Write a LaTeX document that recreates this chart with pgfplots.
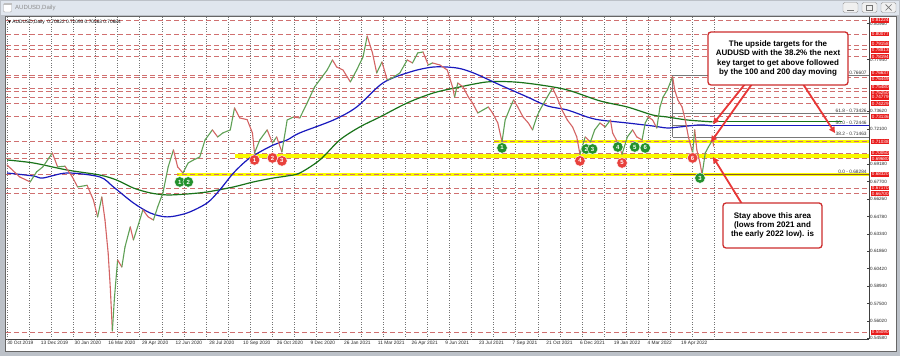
\documentclass[border=0pt]{standalone}
\usepackage{pgfplots}
\pgfplotsset{compat=1.18}
\usepackage{fontspec}
\setmainfont{Liberation Sans}
\newfontfamily\dejavu{DejaVu Sans}
\usetikzlibrary{arrows.meta}
\definecolor{mtred}{RGB}{232,28,28}
\definecolor{lvlred}{RGB}{208,112,112}
\definecolor{candleup}{RGB}{95,160,85}
\definecolor{candledn}{RGB}{212,100,100}
\definecolor{maBlue}{RGB}{25,25,190}
\definecolor{maGreen}{RGB}{25,115,25}
\definecolor{boxred}{RGB}{205,45,45}
\definecolor{arrred}{RGB}{232,55,55}
\definecolor{ylw}{RGB}{250,250,0}
\definecolor{winframe}{RGB}{188,193,200}
\definecolor{titlebar}{RGB}{224,230,238}
\definecolor{mkgreen}{RGB}{35,145,45}
\definecolor{mkred}{RGB}{232,65,60}
\definecolor{fibgray}{RGB}{120,120,120}

\pgfplotstableread{
x y m
0 0.6910 0
12 0.6810 0
22 0.6768 1
28 0.6852 1
34 0.6894 1
43 0.7011 0
48 0.6894 1
55 0.6900 0
62 0.6810 0
67 0.6726 1
76 0.6740 0
82 0.6617 0
86 0.6475 1
90 0.6642 0
93 0.6449 0
96 0.6173 0
98 0.5888 0
100 0.5520 1
102 0.5800 1
105 0.6114 0
109 0.6055 1
112 0.6223 1
117 0.6391 0
120 0.6282 1
124 0.6391 1
129 0.6534 0
134 0.6475 0
139 0.6449 1
143 0.6558 1
148 0.6676 1
153 0.6894 1
158 0.7036 0
162 0.6894 0
167 0.6843 1
172 0.6927 1
177 0.6952 1
183 0.6977 1
188 0.7120 1
195 0.7204 0
200 0.7145 1
205 0.7179 1
212 0.7204 1
216 0.7388 0
221 0.7304 0
228 0.7290 0
233 0.7179 0
235 0.7011 1
240 0.7120 1
247 0.7204 0
252 0.7095 1
256 0.7145 0
261 0.7019 1
266 0.7287 1
272 0.7312 0
278 0.7304 1
285 0.7430 1
292 0.7564 1
297 0.7623 1
304 0.7706 1
309 0.7790 0
313 0.7731 0
319 0.7706 0
326 0.7606 1
332 0.7706 1
338 0.7815 1
342 0.7990 0
347 0.7849 0
351 0.7681 1
356 0.7773 0
361 0.7623 1
366 0.7640 1
373 0.7681 1
380 0.7790 0
385 0.7765 1
390 0.7849 1
395 0.7857 0
400 0.7748 1
404 0.7765 0
411 0.7748 0
418 0.7706 0
423 0.7564 0
425 0.7480 1
428 0.7597 0
433 0.7564 0
438 0.7480 0
442 0.7430 0
447 0.7346 1
452 0.7371 1
457 0.7396 0
461 0.7346 0
466 0.7262 0
470 0.7104 1
473 0.7287 1
478 0.7396 1
481 0.7455 0
485 0.7396 0
490 0.7312 0
495 0.7262 0
499 0.7204 1
503 0.7312 1
506 0.7371 1
513 0.7480 1
518 0.7555 0
522 0.7480 0
527 0.7371 0
532 0.7287 0
537 0.7229 0
541 0.7145 0
544 0.7000 1
549 0.7145 0
554 0.7103 1
558 0.7204 1
563 0.7262 0
568 0.7229 1
573 0.7287 0
575 0.7179 0
580 0.7095 0
584 0.7000 1
589 0.7145 1
594 0.7204 0
598 0.7145 0
603 0.7120 1
606 0.7262 1
609 0.7312 0
613 0.7287 0
617 0.7220 1
620 0.7396 1
623 0.7480 1
627 0.7539 1
632 0.7650 0
634 0.7539 0
637 0.7455 0
641 0.7396 0
644 0.7287 0
647 0.7145 0
651 0.7010 1
653 0.7204 0
655 0.7036 0
658 0.6927 0
660 0.6830 1
663 0.7011 1
666 0.7061 1
670 0.7120 0
671 0.7068 0
}\price

\begin{document}
\begin{tikzpicture}[x=1pt,y=1pt]
\useasboundingbox (0,0) rectangle (900,356);
% window chrome
\fill[winframe] (0,0) rectangle (900,356);
\fill[titlebar] (1,341) rectangle (899,355);
\draw[black!35, rounded corners=1pt, fill=white] (3.5,344) rectangle (11.5,352.5);
\fill[black!25] (3.5,350.5) rectangle (11.5,352.5);
\node[anchor=west, font=\fontsize{6}{7}\selectfont, text=black!45, inner sep=0pt] at (15,348.3) {AUDUSD,Daily};
\foreach \bx in {843,862,881}{
  \draw[black!40, fill=black!6, rounded corners=1.5pt] (\bx,343.5) rectangle ++(15,10);
}
\draw[black!55, line width=0.8pt] (847,346) -- (854,346);
\draw[black!55, line width=0.6pt] (866.5,345.5) rectangle (872.5,351);
\draw[black!55, line width=0.7pt] (885.5,345.5) -- (891.5,351.5) (885.5,351.5) -- (891.5,345.5);
\fill[white] (5,4.5) rectangle (896,339.5);
\draw[black!60, line width=0.5pt] (5,4.5) rectangle (896,339.5);

\begin{axis}[
  at={(6pt,17pt)}, anchor=south west,
  scale only axis, width=863pt, height=322pt,
  xmin=-1, xmax=818.5, ymin=0.5452, ymax=0.8150,
  axis x line*=bottom, axis y line*=right,
  axis line style={black!75, line width=0.5pt, -},
  xtick={0,32,...,640},
  xticklabels={30 Oct 2019,13 Dec 2019,30 Jan 2020,16 Mar 2020,29 Apr 2020,12 Jun 2020,28 Jul 2020,10 Sep 2020,26 Oct 2020,9 Dec 2020,26 Jan 2021,11 Mar 2021,26 Apr 2021,9 Jun 2021,23 Jul 2021,7 Sep 2021,21 Oct 2021,6 Dec 2021,19 Jan 2022,4 Mar 2022,19 Apr 2022},
  x tick label style={anchor=north west, font=\fontsize{4.8}{5.5}\selectfont, inner sep=0.5pt, yshift=-1.5pt, xshift=-0.5pt, text=black!85},
  xtick style={draw=none},
  extra x ticks={0,21,...,672},
  extra x tick labels={},
  extra x tick style={grid=major, major grid style={black!55, dotted, line width=0.5pt}, major tick length=0pt},
  ytick={0.5458,0.5602,0.5750,0.5894,0.6042,0.6186,0.6334,0.6478,0.6626,0.6770,0.6918,0.7210,0.7362,0.7794,0.8096},
  yticklabel style={font=\fontsize{4.6}{5}\selectfont, text=black!85, inner sep=1pt,
    /pgf/number format/fixed, /pgf/number format/fixed zerofill,
    /pgf/number format/precision=5, /pgf/number format/assume math mode=true},
  ytick style={black!75, line width=0.4pt},
  major tick length=2pt,
  clip=false,
]
% yellow zones
\addplot[ylw, line width=3pt] coordinates {(462,0.7104) (818.5,0.7104)};
\addplot[ylw, line width=4.6pt] coordinates {(216,0.69865) (818.5,0.69865)};
\addplot[ylw, line width=3.2pt] coordinates {(161,0.6830) (818.5,0.6830)};
% red dashed levels
\pgfplotsinvokeforeach{0.81224,0.80077,0.79158,0.78813,0.78194,0.76637,0.76449,0.75480,0.75250,0.74779,0.74229,0.73136,0.71038,0.70050,0.69680,0.68320,0.67170,0.66700,0.55090}{
  \addplot[lvlred, line width=0.8pt, dash pattern=on 5pt off 3pt] coordinates {(-1,#1) (818.5,#1)};
}
% red price tags on the right scale
\tikzset{pricetag/.style={anchor=west, fill=mtred, text=white, font=\fontsize{4.6}{5}\selectfont, inner sep=0.75pt, xshift=2pt}}
\node[pricetag] at (axis cs:818.5,0.81224) {0.81224};
\node[pricetag] at (axis cs:818.5,0.80077) {0.80077};
\node[pricetag, yshift=1.3pt] at (axis cs:818.5,0.79158) {0.79158};
\node[pricetag, yshift=-1.3pt] at (axis cs:818.5,0.78813) {0.78813};
\node[pricetag] at (axis cs:818.5,0.78194) {0.78194};
\node[pricetag, yshift=1.8pt] at (axis cs:818.5,0.76637) {0.76637};
\node[pricetag, yshift=-1.8pt] at (axis cs:818.5,0.76449) {0.76449};
\node[pricetag, yshift=1.6pt] at (axis cs:818.5,0.75480) {0.75480};
\node[pricetag, yshift=-1.6pt] at (axis cs:818.5,0.75250) {0.75250};
\node[pricetag] at (axis cs:818.5,0.74779) {0.74779};
\node[pricetag] at (axis cs:818.5,0.74229) {0.74229};
\node[pricetag] at (axis cs:818.5,0.73136) {0.73136};
\node[pricetag] at (axis cs:818.5,0.71038) {0.71038};
\node[pricetag, yshift=0.6pt] at (axis cs:818.5,0.70050) {0.70050};
\node[pricetag, yshift=-0.6pt] at (axis cs:818.5,0.69680) {0.69680};
\node[pricetag] at (axis cs:818.5,0.68320) {0.68320};
\node[pricetag] at (axis cs:818.5,0.67170) {0.67170};
\node[pricetag] at (axis cs:818.5,0.66700) {0.66700};
\node[pricetag] at (axis cs:818.5,0.55090) {0.55090};
% fibonacci levels
\addplot[fibgray, line width=0.5pt] coordinates {(632,0.76607) (818.5,0.76607)};
\addplot[fibgray, line width=0.5pt] coordinates {(632,0.73426) (818.5,0.73426)};
\addplot[fibgray, line width=0.5pt] coordinates {(632,0.72446) (818.5,0.72446)};
\addplot[fibgray, line width=0.5pt] coordinates {(632,0.71463) (818.5,0.71463)};
\addplot[brown!70!black, line width=0.6pt] coordinates {(632,0.68284) (818.5,0.68284)};
\addplot[fibgray, line width=0.4pt] coordinates {(632,0.76607) (632,0.71463)};
\node[anchor=south east, font=\fontsize{4.8}{5}\selectfont, inner sep=0.6pt, text=black!80] at (axis cs:817,0.76607) {- 0.76607};
\node[anchor=south east, font=\fontsize{4.8}{5}\selectfont, inner sep=0.6pt, text=black!80] at (axis cs:817,0.73426) {61.8 - 0.73426};
\node[anchor=south east, font=\fontsize{4.8}{5}\selectfont, inner sep=0.6pt, text=black!80] at (axis cs:817,0.72446) {50.0 - 0.72446};
\node[anchor=south east, font=\fontsize{4.8}{5}\selectfont, inner sep=0.6pt, text=black!80] at (axis cs:817,0.71463) {38.2 - 0.71463};
\node[anchor=south east, font=\fontsize{4.8}{5}\selectfont, inner sep=0.6pt, text=black!80] at (axis cs:817,0.68284) {0.0 - 0.68284};
% moving averages
\addplot[maGreen, line width=1.2pt, smooth] coordinates {
(0,0.6952) (25,0.6927) (57,0.6868) (88,0.6826) (104,0.6784) (120,0.6717) (136,0.6676) (152,0.6659) (171,0.6667) (190,0.6684) (215,0.6726) (234,0.6768) (253,0.6801) (266,0.6818) (278,0.6843) (297,0.6952) (316,0.7120) (335,0.7229) (354,0.7312) (380,0.7430) (405,0.7514) (430,0.7564) (456,0.7606) (481,0.7606) (506,0.7581) (532,0.7539) (563,0.7447) (589,0.7396) (613,0.7329) (627,0.7312) (646,0.7287) (670,0.7271)};
\addplot[maGreen, line width=1.2pt] coordinates {(670,0.7273) (793,0.7273)};
\addplot[maBlue, line width=1.2pt, smooth] coordinates {
(0,0.6843) (25,0.6818) (34,0.6801) (57,0.6843) (88,0.6810) (101,0.6726) (120,0.6592) (136,0.6508) (152,0.6475) (171,0.6508) (190,0.6592) (202,0.6701) (215,0.6843) (228,0.6952) (240,0.7019) (253,0.7078) (266,0.7120) (278,0.7179) (310,0.7287) (332,0.7396) (357,0.7598) (383,0.7690) (405,0.7731) (427,0.7723) (443,0.7681) (468,0.7581) (494,0.7480) (513,0.7405) (532,0.7371) (551,0.7312) (563,0.7287) (589,0.7262) (613,0.7237) (627,0.7220) (639,0.7229) (658,0.7246) (670,0.7237)};
\addplot[maBlue, line width=1.2pt] coordinates {(670,0.7240) (818.5,0.7240)};
% price
\addplot[mesh, shader=flat corner, point meta=explicit, point meta min=0, point meta max=1,
  colormap={updown}{color=(candledn) color=(candleup)}, line width=1.1pt, line cap=round]
  table[x=x, y=y, meta=m] {\price};
% numbered markers
\addplot[only marks, mark=*, mark size=5.3pt, mark options={fill=mkgreen, draw=white, line width=0.4pt},
  nodes near coords, point meta=explicit symbolic,
  every node near coord/.append style={anchor=center, font=\bfseries\fontsize{6}{6}\selectfont, text=white, inner sep=0pt}]
  coordinates {(164,0.6768) [1] (172,0.6768) [2] (470,0.7053) [1] (550,0.7044) [2] (556,0.7044) [3] (580,0.7061) [4] (596,0.7061) [5] (606,0.7053) [6] (658,0.6801) [3]};
\addplot[only marks, mark=*, mark size=5.3pt, mark options={fill=mkred, draw=white, line width=0.4pt},
  nodes near coords, point meta=explicit symbolic,
  every node near coord/.append style={anchor=center, font=\bfseries\fontsize{6}{6}\selectfont, text=white, inner sep=0pt}]
  coordinates {(235,0.6952) [1] (252,0.6969) [2] (261,0.6944) [3] (544,0.6944) [4] (584,0.6927) [5] (651,0.6969) [6]};
\end{axis}

% info line
\node[anchor=west, inner sep=0pt, font=\fontsize{4.8}{5}\selectfont] at (8,334) {{\dejavu\fontsize{3.8}{4}\selectfont ▼}\ AUDUSD,Daily\ \ 0.70822 0.71093 0.70563 0.70684};

% arrows
\draw[arrred, line width=1.8pt, -{Triangle[length=6pt,width=6pt]}] (745,272) -- (713,232);
\draw[arrred, line width=1.8pt, -{Triangle[length=6pt,width=6pt]}] (752,272) -- (711,214);
\draw[arrred, line width=1.8pt, -{Triangle[length=6pt,width=6pt]}] (803,272) -- (835,223);
\draw[arrred, line width=1.8pt, -{Triangle[length=6pt,width=6pt]}] (742,152) -- (713,199);
% callout boxes
\node[draw=boxred, line width=1.3pt, rounded corners=3pt, fill=white, minimum width=140pt, minimum height=53pt, inner sep=1pt, align=center, font=\bfseries\fontsize{8}{9.3}\selectfont] at (778,297.5) {The upside targets for the\\AUDUSD with the 38.2\% the next\\key target to get above followed\\by the 100 and 200 day moving};
\node[draw=boxred, line width=1.3pt, rounded corners=3pt, fill=white, minimum width=99pt, minimum height=45pt, inner sep=1pt, align=center, font=\bfseries\fontsize{8}{8.7}\selectfont] at (772.5,130.5) {Stay above this area\\(lows from 2021 and\\the early 2022 low). is};
\end{tikzpicture}
\end{document}
